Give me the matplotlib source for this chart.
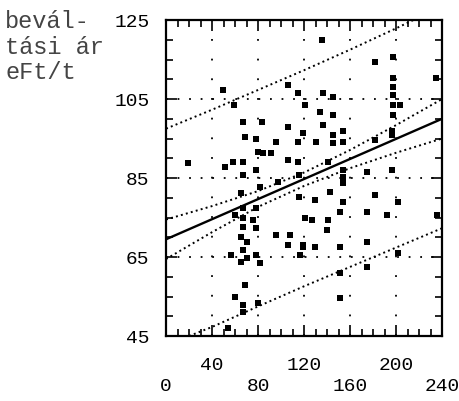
import matplotlib
matplotlib.use("Agg")
import matplotlib.pyplot as plt
from matplotlib.ticker import MultipleLocator

plt.rcParams['font.family'] = ['Liberation Mono', 'DejaVu Sans Mono']

# scatter points (x, price)
x_pts = [49.6, 59, 106, 115, 67, 83,
         135.6, 182, 197, 197, 197, 197, 136.5, 145, 121, 134, 145, 197, 197, 203,
         235,
         106, 69, 78, 96, 115, 80, 84, 91, 106, 115, 19, 58, 67, 51, 78, 67, 65, 82,
         97, 116, 116, 67, 78, 60, 67, 76,
         119, 130, 145, 145, 154, 154, 136.5, 196.5, 196.5, 182, 141, 154, 154, 154,
         175, 196.5, 142.6, 129.6, 154, 182, 202, 151, 175, 192, 235.6, 121, 127, 141,
         67, 78, 96, 108, 65, 70, 67, 56.5, 65, 70, 78, 82, 106, 119, 116.5, 69, 60,
         67, 67, 80, 54,
         140, 119, 129.6, 151, 175, 202, 175, 151, 151]
y_pts = [107.3, 103.5, 108.5, 106.5, 99.2, 99.2,
         120, 114.4, 115.6, 110.3, 108, 106, 106.5, 105.5, 103.5, 101.7, 101, 103.5, 101, 103.5,
         110.3,
         97.9, 95.4, 95, 94, 94, 91.6, 91.3, 91.3, 89.6, 89, 88.8, 89, 89, 87.8, 87, 85.8, 81.2, 82.7,
         84, 85.8, 80.2, 77.4, 77.4, 75.6, 75, 74.4,
         96.4, 94, 95.9, 93.9, 97, 94, 98.4, 97, 95.9, 94.6, 89, 87, 85.3, 83.7,
         86.5, 87, 81.5, 79.4, 79, 80.7, 79, 76.4, 76.4, 75.6, 75.6, 75, 74.4, 74.4,
         72.6, 72.3, 70.6, 70.6, 70, 68.8, 66.8, 65.5, 63.7, 64.7, 65.5, 63.5, 68, 68, 65.5, 57.9, 54.9,
         52.8, 51, 53.4, 47,
         71.8, 67.5, 67.5, 67.5, 68.8, 66, 62.5, 61, 54.6]

# regression line
reg_x = [0, 240]
reg_y = [69.5, 100]

# confidence band (inner, dotted)
band_x = [0, 40, 80, 120, 160, 200, 240]
conf_hi = [74.5, 77.9, 81.7, 86.4, 92.1, 98.4, 105.0]
conf_lo = [64.5, 71.3, 77.7, 83.0, 87.5, 91.4, 95.0]

# prediction band (outer, dotted)
pred_hi_x = [0, 40, 80, 120, 160, 200, 215]
pred_hi = [97.5, 102.3, 107.3, 112.3, 117.5, 122.9, 125]
pred_lo_x = [20, 40, 80, 120, 160, 200, 240]
pred_lo = [45, 47.3, 52.5, 57.6, 62.5, 67.4, 72.3]

xticks = [0, 40, 80, 120, 160, 200, 240]
yticks = [45, 65, 85, 105, 125]

fig = plt.figure(figsize=(4.6, 4.01), dpi=100)
ax = fig.add_axes([0.361, 0.162, 0.6, 0.788])

ax.plot(x_pts, y_pts, 's', color='black', markersize=4.2, markeredgewidth=0)
ax.plot(reg_x, reg_y, '-', color='black', lw=1.7)
ax.plot(band_x, conf_hi, ':', color='black', lw=1.4)
ax.plot(band_x, conf_lo, ':', color='black', lw=1.4)
ax.plot(pred_hi_x, pred_hi, ':', color='black', lw=1.4)
ax.plot(pred_lo_x, pred_lo, ':', color='black', lw=1.4)

ax.set_xlim(0, 240)
ax.set_ylim(45, 125)

# dotted grid, dots sitting on the minor tick positions
ax.grid(axis='x', color='black', lw=1.3, linestyle=(0, (1.0, 9.9)))
ax.grid(axis='y', color='black', lw=1.3, linestyle=(0, (1.0, 5.4)))
ax.set_axisbelow(True)

ax.set_xticks(xticks, [str(v) for v in xticks])
ax.set_yticks(yticks, [str(v) for v in yticks])
ax.xaxis.set_minor_locator(MultipleLocator(10))
ax.yaxis.set_minor_locator(MultipleLocator(5))
ax.tick_params(which='both', direction='in', top=True, right=True, width=1.2, labelsize=14)
ax.tick_params(which='major', length=8)
ax.tick_params(which='minor', length=5)
ax.tick_params(axis='y', pad=12)

# staggered x labels: 40,120,200 upper row; 0,80,160,240 lower row
for i, t in enumerate(ax.xaxis.get_major_ticks()):
    t.set_pad(15 if i % 2 else 30)

for s in ax.spines.values():
    s.set_linewidth(1.6)

fig.text(0.011, 0.975, "bevál-\ntási ár\neFt/t", ha='left', va='top',
         fontsize=17, linespacing=1.15, color='#444444')

fig.savefig("out.png", dpi=100)
